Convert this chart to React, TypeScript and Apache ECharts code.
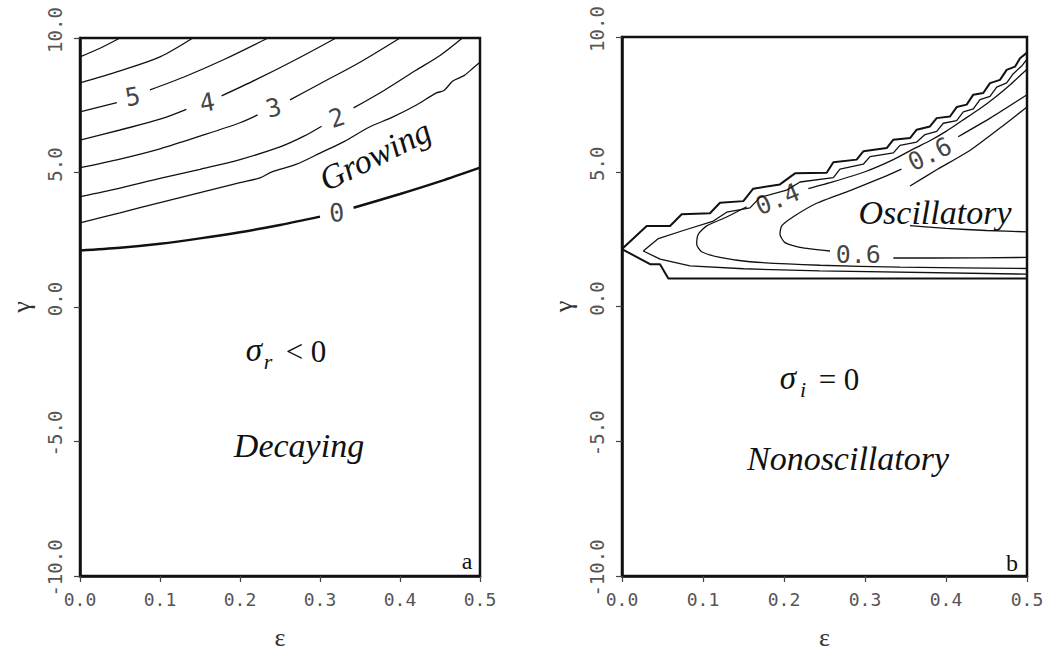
import React, { useEffect, useRef } from "react";
import * as echarts from "echarts";

// ---------- Panel a: sigma_r contours, each contour split into segments (gaps for labels) ----------
const aLevel0 = [
  [[0, 2.1], [0.05, 2.2], [0.1, 2.35], [0.15, 2.55], [0.2, 2.78], [0.25, 3.05], [0.3, 3.36]],
  [[0.342, 3.69], [0.4, 4.2], [0.45, 4.67], [0.5, 5.18]],
];
const aLevel1 = [
  [[0, 3.13], [0.05, 3.5], [0.1, 3.88], [0.15, 4.25], [0.2, 4.62], [0.225, 4.8], [0.24, 5.02], [0.27, 5.3], [0.3, 5.72], [0.33, 6.15], [0.3625, 6.7], [0.39, 7.05], [0.42, 7.5], [0.445, 7.95], [0.455, 8.05], [0.466, 8.4], [0.48, 8.6], [0.49, 8.85], [0.5, 9.1]],
];
const aLevel2 = [
  [[0, 4.1], [0.05, 4.42], [0.1, 4.78], [0.15, 5.12], [0.2, 5.48], [0.25, 5.95], [0.28, 6.35], [0.302, 6.72]],
  [[0.342, 7.4], [0.38, 8.05], [0.42, 8.8], [0.45, 9.35], [0.478, 10]],
];
const aLevel3 = [
  [[0, 5.18], [0.05, 5.5], [0.1, 5.88], [0.15, 6.35], [0.2, 6.85], [0.222, 7.14]],
  [[0.2625, 7.7], [0.3, 8.3], [0.35, 9.1], [0.4, 10]],
];
const aLevel4 = [
  [[0, 6.2], [0.05, 6.58], [0.1, 6.98], [0.133, 7.35]],
  [[0.177, 7.85], [0.22, 8.45], [0.27, 9.2], [0.32, 10]],
];
const aLevel5 = [
  [[0, 7.25], [0.046, 7.6]],
  [[0.0875, 8.07], [0.13, 8.55], [0.18, 9.2], [0.235, 10]],
];
const aLevel6 = [[[0, 8.33], [0.05, 8.78], [0.1, 9.3], [0.141, 10]]];
const aLevel7 = [[[0, 9.3], [0.025, 9.62], [0.05, 10]]];

// contour labels: [ε, γ, text, rotation deg]
const aLabels: [number, number, string, number][] = [
  [0.066, 7.81, "5", 10],
  [0.159, 7.6, "4", 10],
  [0.242, 7.4, "3", 15],
  [0.321, 7.03, "2", 18],
  [0.321, 3.5, "0", 5],
];

// ---------- Panel b: sigma_i contours ----------
const bLevel0 = [
  [[0.5, 9.42], [0.4914, 9.21], [0.4852, 8.9], [0.4749, 8.78], [0.4667, 8.41], [0.4543, 8.29], [0.446, 7.92], [0.4337, 7.86], [0.4255, 7.49], [0.4132, 7.4], [0.4049, 7.05], [0.3885, 6.99], [0.3802, 6.68], [0.3638, 6.56], [0.3556, 6.25], [0.335, 6.19], [0.3268, 5.88], [0.2979, 5.76], [0.2897, 5.45], [0.2609, 5.35], [0.2527, 4.96], [0.2136, 4.94], [0.195, 4.53], [0.162, 4.37], [0.1498, 3.91], [0.121, 3.85], [0.1086, 3.46], [0.0737, 3.42], [0.0593, 2.99], [0.0305, 2.99], [0, 2.13], [0.0346, 1.57], [0.0469, 1.57], [0.0572, 1.04], [0.5, 1.04]],
];
const bLevel02 = [
  [[0.5, 1.2], [0.244, 1.32], [0.15, 1.4], [0.084, 1.51], [0.047, 1.76], [0.0263, 2.06], [0.0449, 2.52], [0.0757, 2.82], [0.1128, 3.17], [0.1292, 3.5], [0.158, 3.66], [0.1704, 4.05], [0.2033, 4.32], [0.2198, 4.62], [0.2609, 4.78], [0.2691, 5.1], [0.2979, 5.28], [0.3062, 5.56], [0.335, 5.7], [0.3432, 5.98], [0.3638, 6.1], [0.3741, 6.38], [0.3885, 6.5], [0.3967, 6.8], [0.4132, 6.9], [0.4214, 7.22], [0.4337, 7.33], [0.442, 7.68], [0.4543, 7.8], [0.4626, 8.14], [0.4749, 8.3], [0.4831, 8.64], [0.4934, 8.92], [0.5, 9.18]],
];
const bLevel04 = [
  [[0.5, 1.41], [0.3432, 1.46], [0.2444, 1.53], [0.158, 1.66], [0.121, 1.82], [0.0984, 2.03], [0.0922, 2.31], [0.0942, 2.68], [0.1045, 2.99], [0.1292, 3.32], [0.1539, 3.7]],
  [[0.23, 4.37], [0.26, 4.62], [0.3, 5.0], [0.335, 5.45], [0.36, 5.85], [0.38, 6.15], [0.4, 6.5], [0.42, 6.9], [0.44, 7.3], [0.46, 7.75], [0.48, 8.25], [0.5, 8.8]],
];
const bLevel06 = [
  [[0.5, 1.82], [0.3844, 1.8], [0.335, 1.8]],
  [[0.2568, 2.06], [0.2198, 2.19], [0.2012, 2.37], [0.195, 2.68], [0.1972, 2.99], [0.2115, 3.33], [0.2403, 3.83], [0.2815, 4.3], [0.3226, 4.8], [0.345, 5.1]],
  [[0.415, 6.3], [0.455, 7.0], [0.5, 7.86]],
];
const bLevel08 = [
  [[0.3556, 4.47], [0.39, 5.1], [0.43, 5.8], [0.47, 6.7], [0.5, 7.4]],
  [[0.3556, 3.0], [0.4, 2.9], [0.45, 2.82], [0.5, 2.77]],
];
const bLabels: [number, number, string, number][] = [
  [0.192, 3.98, "0.4", 22],
  [0.38, 5.65, "0.6", 26],
  [0.2917, 1.94, "0.6", 0],
];

const INK = "#111";
const MONO = "'DejaVu Sans Mono', 'Liberation Mono', monospace";
const SERIF = "'Liberation Serif', 'DejaVu Serif', serif";

function contourSeries(segments: number[][][], idx: number, width: number, smooth: number | boolean) {
  return segments.map((seg) => ({
    type: "line",
    xAxisIndex: idx,
    yAxisIndex: idx,
    data: seg,
    symbol: "none",
    smooth,
    silent: true,
    lineStyle: { color: INK, width },
  }));
}

function labelSeries(labels: [number, number, string, number][], idx: number) {
  return {
    type: "scatter",
    xAxisIndex: idx,
    yAxisIndex: idx,
    symbolSize: 1,
    silent: true,
    itemStyle: { color: "rgba(0,0,0,0)" },
    data: labels.map(([x, y, t, r]) => ({
      value: [x, y],
      label: {
        show: true,
        position: "inside",
        formatter: t,
        rotate: r,
        fontFamily: MONO,
        fontSize: 25,
        color: INK,
      },
    })),
  };
}

function makeAxes(idx: number) {
  const xAxis = {
    type: "value",
    gridIndex: idx,
    min: 0,
    max: 0.5,
    interval: 0.1,
    name: "ε",
    nameLocation: "middle",
    nameGap: 48,
    nameTextStyle: { fontFamily: SERIF, fontSize: 26, color: "#333" },
    axisLine: { show: true, onZero: false, lineStyle: { color: INK, width: 2.5 } },
    axisTick: { show: true, length: 6, lineStyle: { color: "#444", width: 1.2 } },
    axisLabel: {
      margin: 14,
      fontFamily: MONO,
      fontSize: 18,
      color: "#555",
      formatter: (v: number) => v.toFixed(1),
    },
    splitLine: { show: false },
  };
  const yAxis = {
    type: "value",
    gridIndex: idx,
    min: -10,
    max: 10,
    interval: 5,
    name: "γ",
    nameLocation: "middle",
    nameGap: 46,
    nameRotate: 90,
    nameTextStyle: { fontFamily: SERIF, fontSize: 26, color: "#333" },
    axisLine: { show: true, onZero: false, lineStyle: { color: INK, width: 2.5 } },
    axisTick: { show: true, length: 6, lineStyle: { color: "#444", width: 1.2 } },
    axisLabel: {
      margin: 16,
      rotate: 90,
      fontFamily: MONO,
      fontSize: 19,
      color: "#555",
      padding: [0, 0, 0, 16],
      formatter: (v: number) => v.toFixed(1),
    },
    splitLine: { show: false },
  };
  return { xAxis, yAxis };
}

function txt(x: number, y: number, text: string, font: string, rotation = 0, align = "center") {
  return {
    type: "text",
    x,
    y,
    rotation,
    silent: true,
    style: {
      text,
      font,
      fill: INK,
      align,
      textAlign: align,
      verticalAlign: "middle",
      textVerticalAlign: "middle",
    },
  };
}

export default function App() {
  const ref = useRef<HTMLDivElement>(null);
  useEffect(() => {
    document.body.style.margin = "0";
    if (!ref.current) return;
    const chart = echarts.init(ref.current, undefined, { renderer: "svg" });
    const a = makeAxes(0);
    const b = makeAxes(1);
    const ital = (s: number) => `italic ${s}px ${SERIF}`;
    const norm = (s: number) => `${s}px ${SERIF}`;
    chart.setOption({
      animation: false,
      backgroundColor: "#fff",
      grid: [
        { left: 80, top: 38, width: 400, height: 539, show: true, borderColor: INK, borderWidth: 2.5, backgroundColor: "transparent" },
        { left: 622, top: 37, width: 405, height: 541, show: true, borderColor: INK, borderWidth: 2.5, backgroundColor: "transparent" },
      ],
      xAxis: [a.xAxis, b.xAxis],
      yAxis: [a.yAxis, b.yAxis],
      series: [
        ...contourSeries(aLevel0, 0, 2.4, 0.3),
        ...contourSeries(aLevel1, 0, 1.3, 0.3),
        ...contourSeries(aLevel2, 0, 1.3, 0.3),
        ...contourSeries(aLevel3, 0, 1.3, 0.3),
        ...contourSeries(aLevel4, 0, 1.3, 0.3),
        ...contourSeries(aLevel5, 0, 1.3, 0.3),
        ...contourSeries(aLevel6, 0, 1.3, 0.3),
        ...contourSeries(aLevel7, 0, 1.3, 0.3),
        labelSeries(aLabels, 0),
        ...contourSeries(bLevel0, 1, 2, false),
        ...contourSeries(bLevel02, 1, 1.3, false),
        ...contourSeries(bLevel04, 1, 1.3, 0.2),
        ...contourSeries(bLevel06, 1, 1.3, 0.2),
        ...contourSeries(bLevel08, 1, 1.3, 0.2),
        labelSeries(bLabels, 1),
      ],
      graphic: [
        txt(375, 155, "Growing", ital(34), 0.46),
        txt(254, 350, "σ", ital(33)),
        txt(268, 361, "r", ital(22)),
        txt(306, 351, "< 0", norm(31)),
        txt(299, 445, "Decaying", ital(34)),
        txt(467, 561, "a", norm(24)),
        txt(935, 212, "Oscillatory", ital(34)),
        txt(788, 378, "σ", ital(33)),
        txt(803, 389, "i", ital(22)),
        txt(839, 379, "= 0", norm(31)),
        txt(848, 458, "Nonoscillatory", ital(34)),
        txt(1012, 563, "b", norm(24)),
      ],
    });
    return () => chart.dispose();
  }, []);
  return <div ref={ref} style={{ width: 1047, height: 655 }} />;
}
